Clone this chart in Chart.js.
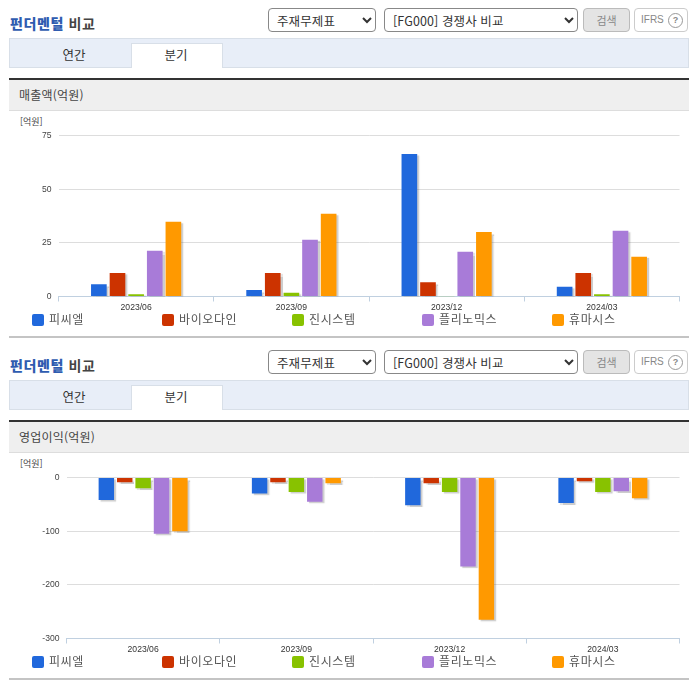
<!DOCTYPE html>
<html lang="ko"><head><meta charset="utf-8">
<script src="https://cdn.jsdelivr.net/npm/chart.js@4/dist/chart.umd.min.js"></script>
<style>
html,body{margin:0;padding:0;background:#fff;width:696px;height:684px;overflow:hidden;font-family:"Noto Sans CJK KR","Noto Sans",sans-serif;color:#444}
.abs{position:absolute;white-space:nowrap}
.sec{position:absolute;left:0;width:696px;height:342px}
.title{left:10px;top:12px;font-size:14px;font-weight:700;line-height:22px;color:#444;letter-spacing:.6px}
.title b{color:#2f5cb0}
select{position:absolute;top:8px;height:24px;font:12.5px "Noto Sans CJK KR",sans-serif;color:#333;background:#fff;border:1px solid #888;border-radius:4px;padding:0 4px;box-sizing:border-box;letter-spacing:.1px}
.btn{top:8px;height:24px;box-sizing:border-box;border-radius:4px;text-align:center;font-size:11px;line-height:22px;color:#888}
.ifrs{font:10px/22px "Liberation Sans",sans-serif;text-align:left;padding-left:6px}
.ifrs i{position:absolute;left:33px;top:4px;width:13px;height:13px;border:1px solid #999;border-radius:50%;font:700 9px/13px "Liberation Sans",sans-serif;text-align:center;color:#888}
.tabbar{left:9px;top:38px;width:680px;height:30px;box-sizing:border-box;background:#e8eef8;border:1px solid #d8dfe8}
.tab{left:131px;top:43px;width:92px;height:25px;box-sizing:border-box;background:#fff;border:1px solid #d8dfe8;border-bottom:0}
.tl{top:46px;font-size:12.5px;line-height:18px;color:#333;transform:translateX(-50%)}
.head{left:9px;top:78px;width:680px;height:33px;box-sizing:border-box;background:#efefef;border-top:2px solid #333;border-bottom:1px solid #ddd;font-size:12px;line-height:30px;padding-left:10px;color:#444;letter-spacing:.2px}
.unit{left:20px;top:116px;font-size:9px;line-height:12px;color:#444}
.rule{left:9px;top:336px;width:680px;height:2px;background:#c4c4c4}
canvas{position:absolute;left:0;top:110px}
.sw{position:absolute;top:314px;width:12px;height:12px;border-radius:2px}
.lg{position:absolute;top:310px;font-size:12px;line-height:18px;color:#555;letter-spacing:.6px;white-space:nowrap}
</style></head><body>
<div id="root"></div>
<script>
const categories = ["2023/06", "2023/09", "2023/12", "2024/03"];
const seriesNames = ["피씨엘", "바이오다인", "진시스템", "플리노믹스", "휴마시스"];
const seriesColors = ["#2068dc", "#cc3300", "#88c200", "#a87bd8", "#ff9900"];
const revPcl = [5.7, 3, 66.4, 4.5];
const revBio = [11, 11, 6.6, 11];
const revGen = [1.1, 1.7, 0.1, 1];
const revPly = [21.3, 26.4, 20.8, 30.6];
const revHum = [34.8, 38.5, 30, 18.5];
const opPcl = [-42, -30, -51.5, -47.7];
const opBio = [-9, -9, -10.5, -7];
const opGen = [-20, -27, -27, -27];
const opPly = [-105, -45, -166, -25.5];
const opHum = [-100, -10.5, -265, -38.5];
const revTicks = [0, 25, 50, 75];
const opTicks = [0, -100, -200, -300];

const barShadow = {
  id: "barShadow",
  beforeDatasetDraw(c) { const x = c.ctx; x.save(); x.shadowColor = "rgba(90,90,90,.3)"; x.shadowOffsetX = 2; x.shadowOffsetY = 1.5; x.shadowBlur = 1; },
  afterDatasetDraw(c) { c.ctx.restore(); }
};

function section(top, heading, vals, ticks, min, max, left, plotTop, plotBottom) {
  const s = document.createElement("div");
  s.className = "sec"; s.style.top = top + "px";
  s.innerHTML =
    '<div class="abs title"><b>펀더멘털</b> 비교</div>' +
    '<select style="left:268px;width:108px"><option>주재무제표</option></select>' +
    '<select style="left:384px;width:194px"><option>[FG000] 경쟁사 비교</option></select>' +
    '<div class="abs btn" style="left:583px;width:47px;background:#e4e4e4;border:1px solid #bbb">검색</div>' +
    '<div class="abs btn ifrs" style="left:634px;width:54px;background:#fff;border:1px solid #ccc">IFRS<i>?</i></div>' +
    '<div class="abs tabbar"></div><div class="abs tab"></div>' +
    '<div class="abs tl" style="left:74px">연간</div><div class="abs tl" style="left:176px">분기</div>' +
    '<div class="abs head">' + heading + '</div>' +
    '<div class="abs unit">[억원]</div>' +
    '<canvas width="696" height="202"></canvas>' +
    '<div class="abs rule"></div>';
  seriesNames.forEach((n, i) => {
    const x = 32 + 130 * i;
    s.insertAdjacentHTML("beforeend",
      '<div class="sw" style="left:' + x + 'px;background:' + seriesColors[i] + '"></div>' +
      '<div class="lg" style="left:' + (x + 17) + 'px">' + n + '</div>');
  });
  document.getElementById("root").appendChild(s);
  const cv = s.querySelector("canvas");
  new Chart(cv, {
    type: "bar",
    plugins: [barShadow],
    data: {
      labels: categories,
      datasets: seriesNames.map((n, i) => ({
        label: n, data: vals[i], backgroundColor: seriesColors[i], borderWidth: 0,
        categoryPercentage: 0.6, barPercentage: 0.84
      }))
    },
    options: {
      responsive: false, animation: false, devicePixelRatio: 1,
      layout: { padding: { left: 0, right: 16.5, top: plotTop - 110, bottom: 0 } },
      plugins: { legend: { display: false }, title: { display: false }, tooltip: { enabled: false } },
      scales: {
        x: {
          position: "bottom",
          afterFit(a) { a.height = 202 - (plotBottom - 110); },
          grid: { drawOnChartArea: false, drawTicks: true, tickLength: 5, tickColor: "#c0d0e0" },
          border: { color: "#c0d0e0", width: 1 },
          ticks: { maxRotation: 0, padding: 1, color: "#333", font: { size: 8.6, family: "Liberation Sans" } }
        },
        y: {
          min, max,
          afterFit(a) { a.width = left; },
          afterBuildTicks(a) { a.ticks = ticks.map(v => ({ value: v })); },
          grid: { color: "#dddddd", drawTicks: false },
          border: { display: false },
          ticks: { padding: 7, color: "#444", font: { size: 8.6, family: "Liberation Sans" } }
        }
      }
    }
  });
}

section(0, "매출액(억원)", [revPcl, revBio, revGen, revPly, revHum], revTicks, 0, 75, 58.5, 135.5, 296.5);
section(342, "영업이익(억원)", [opPcl, opBio, opGen, opPly, opHum], opTicks, -300, 0, 66.5, 135.5, 296.5);
</script>
</body></html>
